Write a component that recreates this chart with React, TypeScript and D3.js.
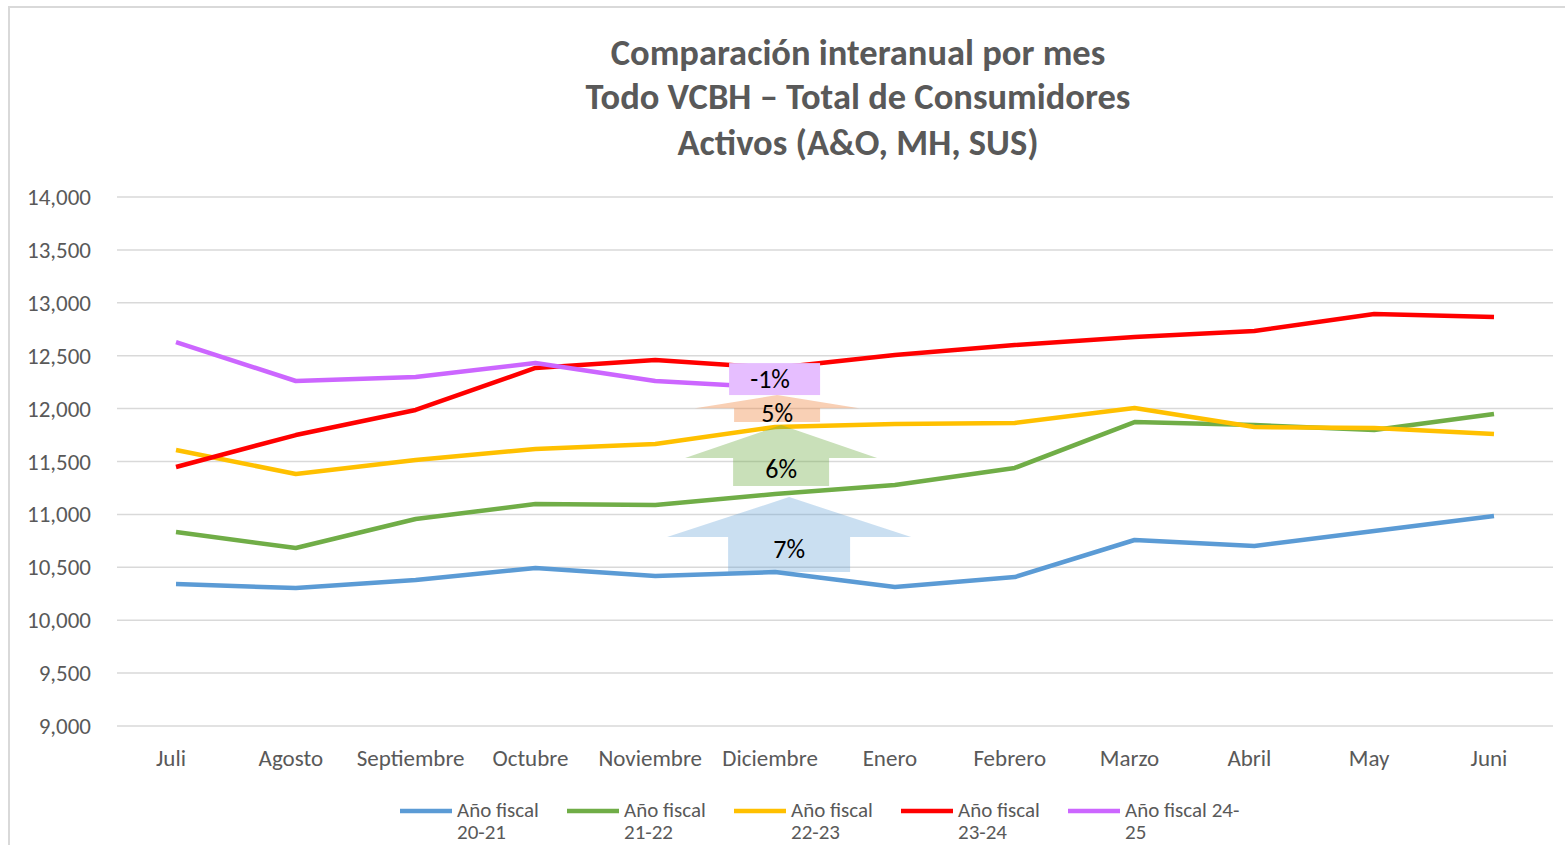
import * as d3 from "d3"

const months = ["Juli", "Agosto", "Septiembre", "Octubre", "Noviembre", "Diciembre", "Enero", "Febrero", "Marzo", "Abril", "May", "Juni"]
const yTicks = [9000, 9500, 10000, 10500, 11000, 11500, 12000, 12500, 13000, 13500, 14000]

const fy2021 = [10342, 10304, 10380, 10493, 10418, 10455, 10314, 10408, 10758, 10701, 10843, 10985]
const fy2122 = [10834, 10682, 10956, 11098, 11089, 11193, 11278, 11439, 11873, 11845, 11798, 11949]
const fy2223 = [11609, 11382, 11514, 11618, 11665, 11826, 11854, 11864, 12006, 11826, 11817, 11760]
const fy2324 = [11448, 11750, 11987, 12384, 12459, 12384, 12507, 12601, 12677, 12733, 12894, 12866]
const fy2425 = [12629, 12261, 12299, 12431, 12261, 12199]

const seriesNames = [["Año fiscal", "20-21"], ["Año fiscal", "21-22"], ["Año fiscal", "22-23"], ["Año fiscal", "23-24"], ["Año fiscal 24-", "25"]]
const seriesColors = ["#5B9BD5", "#70AD47", "#FFC000", "#FF0000", "#CC66FF"]
const seriesData = [fy2021, fy2122, fy2223, fy2324, fy2425]

// year-over-year annotations at Diciembre: [label, from, to]
const arrowLabels = ["7%", "6%", "5%"]
const arrowFrom = [10456, 11268, 11873]
const arrowTo = [11164, 11845, 12128]
const arrowHeadAt = [10786, 11533, 12004]
const arrowColors = ["#5B9BD5", "#70AD47", "#ED7D31"]
const arrowOpacity = [0.32, 0.38, 0.36]
const boxLabel = "-1%"
const boxFrom = 12128
const boxTo = 12430

const font = "Calibri, Carlito, Lato, sans-serif"
const grey = "#595959"

export default function App() {
  const W = 1565
  const H = 845
  const x = d3.scalePoint<string>().domain(months).range([176, 1494])
  const y = d3.scaleLinear().domain([9000, 14000]).range([726, 197])
  const line = d3
    .line<number>()
    .x((_, i) => x(months[i]) ?? 0)
    .y((d) => y(d))
  const dx = x("Diciembre") ?? 0

  const arrowPath = (i: number) => {
    const cx = dx + [14, 6, 2][i]
    const shaft = [61, 48, 43][i]
    const head = [122, 96, 82][i]
    const b = y(arrowFrom[i])
    const t = y(arrowTo[i])
    const h = y(arrowHeadAt[i])
    return `M${cx - shaft},${b}L${cx - shaft},${h}L${cx - head},${h}L${cx},${t}L${cx + head},${h}L${cx + shaft},${h}L${cx + shaft},${b}Z`
  }

  return (
    <svg width={W} height={H} style={{ display: "block", position: "absolute", left: 0, top: 0 }} fontFamily={font}>
      <rect x={0} y={0} width={W} height={H} fill="#fff" />
      <rect x={9} y={7} width={W + 20} height={H + 20} fill="none" stroke="#d9d9d9" strokeWidth={2} />

      <g fill={grey} fontWeight="bold" fontSize={36.5} textAnchor="middle">
        <text x={858} y={65}>Comparación interanual por mes</text>
        <text x={858} y={109}>Todo VCBH – Total de Consumidores</text>
        <text x={858} y={155}>Activos (A&amp;O, MH, SUS)</text>
      </g>

      <g>
        {yTicks.map((t) => (
          <g key={t}>
            <line x1={117} x2={1553} y1={y(t)} y2={y(t)} stroke="#d9d9d9" strokeWidth={1.5} />
            <text x={91} y={y(t)} dy="0.35em" textAnchor="end" fontSize={23} fill={grey}>
              {d3.format(",")(t)}
            </text>
          </g>
        ))}
      </g>

      <g fontSize={23} fill={grey} textAnchor="middle">
        {months.map((m) => (
          <text key={m} x={(x(m) ?? 0) - 5} y={766}>
            {m}
          </text>
        ))}
      </g>

      <g fill="none" strokeWidth={4.5} strokeLinejoin="round">
        {seriesData.map((d, i) => (
          <path key={i} d={line(d) ?? ""} stroke={seriesColors[i]} />
        ))}
      </g>

      <g>
        {arrowLabels.map((l, i) => (
          <g key={l}>
            <path d={arrowPath(i)} fill={arrowColors[i]} fillOpacity={arrowOpacity[i]} />
            <text x={dx + [14, 6, 2][i]} y={(y(arrowFrom[i]) + y(arrowHeadAt[i])) / 2 + [-6, -3, -2][i]} dy="0.35em" textAnchor="middle" fontSize={26} fill="#000">
              {l}
            </text>
          </g>
        ))}
        <rect x={dx - 46} y={y(boxTo)} width={91} height={y(boxFrom) - y(boxTo)} fill="#E6BEFF" />
        <text x={dx - 5} y={(y(boxTo) + y(boxFrom)) / 2} dy="0.35em" textAnchor="middle" fontSize={26} fill="#000">
          {boxLabel}
        </text>
      </g>

      <g fontSize={21} fill={grey}>
        {seriesNames.map((n, i) => (
          <g key={i} transform={`translate(${400 + i * 167},0)`}>
            <line x1={0} x2={52} y1={811} y2={811} stroke={seriesColors[i]} strokeWidth={4.5} />
            <text x={57} y={817}>{n[0]}</text>
            <text x={57} y={839}>{n[1]}</text>
          </g>
        ))}
      </g>
    </svg>
  )
}
